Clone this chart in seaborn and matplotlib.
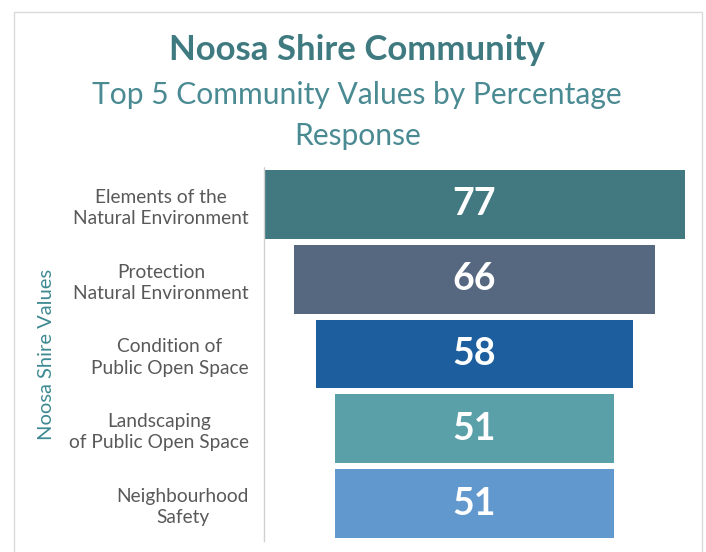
import pandas as pd
import matplotlib
matplotlib.use('Agg')
import matplotlib.pyplot as plt
import matplotlib.patches as mpatches
import seaborn as sns

# data
categories = ['Elements of the\nNatural Environment',
              'Protection\nNatural Environment',
              'Condition of\nPublic Open Space',
              'Landscaping\nof Public Open Space',
              'Neighbourhood\nSafety']
values = [77, 66, 58, 51, 51]
colors = ['#427980', '#566780', '#1C5E9E', '#5AA0A8', '#6199CF']

sns.set_theme(style='white')
plt.rcParams['font.family'] = ['Lato', 'DejaVu Sans']

df = pd.DataFrame({'value': values, 'category': categories})
df['half'] = df['value'] / 2
df['neg_half'] = -df['half']

fig = plt.figure(figsize=(7.06, 5.52), dpi=100)
ax = fig.add_axes([0.374, 0.020, 0.596, 0.6775])

# funnel: mirror the half widths around zero
for col in ['half', 'neg_half']:
    sns.barplot(data=df, x=col, y='category', hue='category', palette=colors,
                saturation=1, legend=False, width=0.92, linewidth=0, ax=ax,
                orient='h')

for i, v in enumerate(values):
    ax.text(0, i, f'{v}', ha='center', va='center', color='white',
            fontsize=27, fontweight='bold')

ax.set_xlim(-max(values) / 2, max(values) / 2)
ax.set_xticks([])
ax.set_xlabel('')
ax.set_ylabel('Noosa Shire Values', color='#3E8A92', fontsize=14.5, labelpad=10)
ax.tick_params(axis='y', length=0, pad=11)
for lbl in ax.get_yticklabels():
    lbl.set_multialignment('center')
    lbl.set_color('#595959')
    lbl.set_fontsize(13.8)
    lbl.set_linespacing(1.3)
for s in ['top', 'right', 'bottom']:
    ax.spines[s].set_visible(False)
ax.spines['left'].set_color('#D0D0D0')
ax.spines['left'].set_linestyle((0, (2, 1)))
ax.spines['left'].set_linewidth(1)

fig.text(0.506, 0.910, 'Noosa Shire Community', ha='center', va='center',
         color='#3E7A80', fontsize=25, fontweight='bold')
fig.text(0.506, 0.828, 'Top 5 Community Values by Percentage', ha='center',
         va='center', color='#4A8A92', fontsize=21.6)
fig.text(0.506, 0.753, 'Response', ha='center', va='center',
         color='#4A8A92', fontsize=21.6)

# light frame round the chart
fig.patches.append(mpatches.Rectangle((14 / 706, -0.05), 688 / 706, 1.05 - 12 / 552,
                                      transform=fig.transFigure, fill=False,
                                      edgecolor='#DADADA', linewidth=1))

fig.savefig('out.png', dpi=100)
